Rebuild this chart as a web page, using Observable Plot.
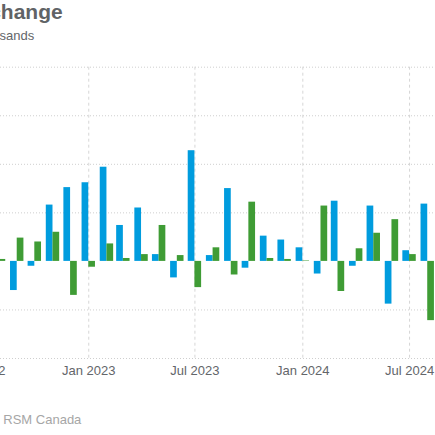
<!DOCTYPE html>
<html><head><meta charset="utf-8">
<script src="https://cdn.jsdelivr.net/npm/d3@7"></script>
<script src="https://cdn.jsdelivr.net/npm/@observablehq/plot@0.6"></script>
<style>
html,body{margin:0;padding:0;background:#fff;overflow:hidden;width:435px;height:435px;position:relative;font-family:"Liberation Sans",Arial,sans-serif;}
.t{position:absolute;white-space:nowrap;left:0;}
#title{top:0px;font-size:21px;font-weight:bold;color:#606366;}
#subtitle{top:27.5px;font-size:13px;color:#63666A;}
#caption{top:411.5px;font-size:13px;color:#a6a6a6;}
#chart{position:absolute;left:0;top:50px;}
</style></head><body>
<div id="title" class="t">Employment change</div>
<div id="subtitle" class="t">Monthly change, in thousands</div>
<div id="chart"></div>
<div id="caption" class="t"><span id="capPre">Source: Statistics Canada, </span><span>RSM Canada</span></div>
<script>
const months = ["2022-08","2022-09","2022-10","2022-11","2022-12","2023-01","2023-02","2023-03","2023-04","2023-05","2023-06","2023-07","2023-08","2023-09","2023-10","2023-11","2023-12","2024-01","2024-02","2024-03","2024-04","2024-05","2024-06","2024-07","2024-08"];
const fullTime = [null,-30,-5,58,76,81,97,37,55,7,-17,114,6,75,-7,26,22,14,-13,62,-5,57,-44,11,59];
const partTime = [2,24,20,30,-35,-6,18,3,7,37,6,-27,14,-14,61,3,2,0.5,57,-31,13,29,43,7,-61];
const tickDates = ["2022-07-01","2023-01-01","2023-07-01","2024-01-01","2024-07-01"];
const yGridValues = [-100,-50,50,100,150,200];
const blue = "#009CDE", green = "#3F9C35";

const rows = months.map((m, i) => ({date: new Date(m + "-01T00:00:00Z"), ft: fullTime[i], pt: partTime[i]}));
const ticks = tickDates.map(d => new Date(d + "T00:00:00Z"));

const chart = Plot.plot({
  width: 435, height: 340,
  marginLeft: 0, marginRight: 0, marginTop: 16.7, marginBottom: 32,
  style: {fontFamily: "'Liberation Sans', Arial, sans-serif", fontSize: "13px", color: "#63666A", background: "transparent"},
  x: {type: "utc", domain: [new Date("2022-08-03T12:00:00Z"), new Date("2024-08-14T06:00:00Z")], label: null},
  y: {domain: [-100, 200], axis: null, label: null},
  marks: [
    Plot.gridY(yGridValues, {stroke: "#cfcfcf", strokeOpacity: 1, strokeDasharray: "1,2"}),
    Plot.gridX(ticks, {stroke: "#d6d6d6", strokeOpacity: 1, strokeDasharray: "3,3"}),
    Plot.axisX(ticks, {tickSize: 0, tickPadding: 7.5, tickFormat: d3.utcFormat("%b %Y"), fill: "#63666A", fontSize: 13, label: null}),
    Plot.rect(rows, {x1: "date", x2: "date", y1: 0, y2: "ft", fill: blue, insetLeft: -6.7, insetRight: 0}),
    Plot.rect(rows, {x1: "date", x2: "date", y1: 0, y2: "pt", fill: green, insetLeft: 0, insetRight: -6.7})
  ]
});
document.getElementById("chart").appendChild(chart);

function placeEnd(id, endX) {
  const el = document.getElementById(id);
  el.style.left = (endX - el.getBoundingClientRect().width) + "px";
}
placeEnd("title", 62.7);
placeEnd("subtitle", 34.3);
const pre = document.getElementById("capPre").getBoundingClientRect().width;
document.getElementById("caption").style.left = (3.3 - pre) + "px";
</script>
</body></html>
